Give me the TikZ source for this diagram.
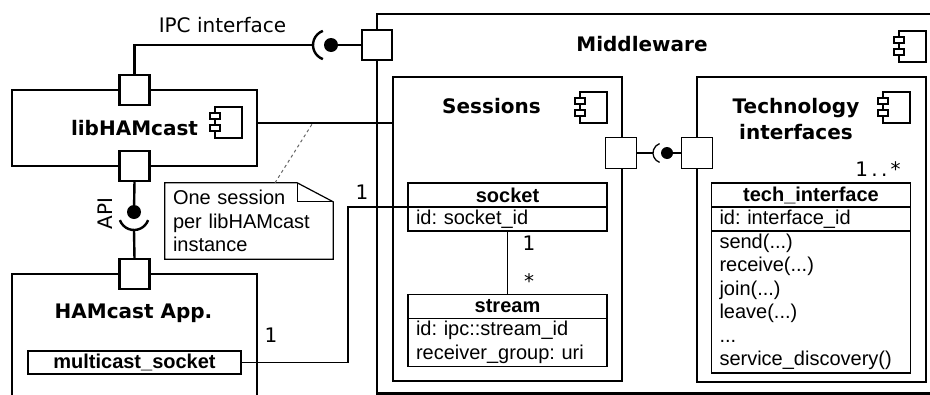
\documentclass[tikz,border=0pt]{standalone}
\usepackage{fontspec}
\setmainfont{DejaVu Sans}
\newfontfamily\umlfont{Liberation Sans}
\usetikzlibrary{positioning,calc}
\frenchspacing

\begin{document}
\begin{tikzpicture}
  [x=1pt,y=-1pt,
   font=\fontsize{20pt}{23.5pt}\selectfont,
   compbig/.style={draw,line width=2.4pt,outer sep=0pt,inner sep=0pt},
   compsmall/.style={draw,line width=1.3pt,outer sep=0pt,inner sep=0pt},
   portbig/.style={draw,fill=white,line width=2.4pt,minimum size=30pt,outer sep=0pt,inner sep=0pt},
   portsmall/.style={draw,fill=white,line width=1.3pt,minimum size=31pt,outer sep=0pt,inner sep=0pt},
   ballbig/.style={circle,fill=black,minimum size=14pt,inner sep=0pt,outer sep=0pt},
   ballsmall/.style={circle,fill=black,minimum size=12pt,inner sep=0pt,outer sep=0pt},
   wirebig/.style={line width=2.4pt},
   wiresmall/.style={line width=1.3pt},
   title/.style={font=\fontsize{20pt}{26pt}\selectfont\bfseries,align=center,inner sep=0pt},
   mult/.style={inner sep=0pt},
   clshead/.style={draw,line width=1.3pt,minimum width=199pt,minimum height=24pt,
     inner sep=0pt,outer sep=0pt,font=\umlfont\fontsize{20pt}{23.5pt}\selectfont\bfseries},
   clsbody/.style={draw,line width=1.3pt,text width=183pt,inner xsep=8pt,inner ysep=0pt,
     outer sep=0pt,align=left,font=\umlfont\fontsize{20pt}{23.5pt}\selectfont},
   assoc/.style={line width=1.2pt},
   notelink/.style={dashed,black!60,line width=1pt},
   compicon/.pic={
     \draw[line width=1.3pt] (0,0) rectangle (27,31);
     \draw[line width=1.3pt,fill=white] (-5,6) rectangle (5,12);
     \draw[line width=1.3pt,fill=white] (-5,18) rectangle (5,24);
   }]
  \useasboundingbox (0,0) rectangle (930,394);
  \clip (0,0) rectangle (930,394);

  % components
  \node[compbig,minimum width=580pt,minimum height=379.5pt,anchor=north west] (mw) at (377,14) {};
  \node[title] (mwname) at (642,44) {Middleware};
  \pic at (899,31) {compicon};

  \node[compsmall,minimum width=229pt,minimum height=304pt,anchor=north west] (sess) at (393,77) {};
  \node[title] (sessname) at (491.5,106) {Sessions};
  \pic at (580,92) {compicon};

  \node[compsmall,minimum width=229pt,minimum height=305pt,anchor=north west] (tech) at (697,77) {};
  \node[title] (techname) at (796,119) {Technology\\interfaces};
  \pic at (883,92) {compicon};

  \node[compbig,minimum width=245pt,minimum height=76pt,font=\fontsize{20pt}{26pt}\selectfont\bfseries] (libbox) at (134.5,128) {libHAMcast};
  \pic at (215,107) {compicon};

  \node[compbig,minimum width=245pt,minimum height=150pt,anchor=north] (app) at (134.5,274) {};
  \node[title] (appname) at (133.5,313) {HAMcast App.};
  \node[clshead,minimum width=213pt,minimum height=23pt] (mcast) at (134.5,362.5) {multicast\_socket};

  % ports
  \node[portbig] (libtop) at (libbox.north) {};
  \node[portbig] (libbot) at (libbox.south) {};
  \node[portbig] (appport) at (app.north) {};
  \node[portbig] (mwport) at (377,45) {};
  \node[portsmall] (sessport) at (621,153) {};
  \node[portsmall] (techport) at (697,153) {};

  % IPC interface
  \coordinate (ipcc) at (328,45);
  \coordinate (ipcsock) at ([xshift=-15pt]ipcc);
  \node[ballbig] (ipcball) at (331,45) {};
  \draw[wirebig] (libtop.north) |- (ipcsock);
  \draw[wirebig] (ipcc) ++(110:15) arc[start angle=110,end angle=250,radius=15];
  \draw[wirebig] (ipcball) -- (mwport.west);
  \node (ipcname) at (222.5,25) {IPC interface};

  % API
  \coordinate (apic) at (134,215);
  \coordinate (apisock) at ([yshift=-15pt]apic);
  \node[ballbig] (apiball) at (134,212) {};
  \draw[wirebig] (libbot.south) -- (apiball);
  \draw[wirebig] (apic) ++(20:15) arc[start angle=20,end angle=160,radius=15];
  \draw[wirebig] (apisock) -- (appport.north);
  \node[rotate=90,inner sep=0pt] (apiname) at (105,213.5) {API};

  % sessions <-> technology interfaces
  \coordinate (techc) at (663,153);
  \coordinate (techsock) at ([xshift=-10pt]techc);
  \node[ballsmall] (techball) at (667,153) {};
  \draw[wiresmall] (sessport.east) -- (techsock);
  \draw[wiresmall] (techc) ++(110:10) arc[start angle=110,end angle=250,radius=10];
  \draw[wiresmall] (techball) -- (techport.west);

  % classes
  \node[clshead] (sockhd) at (507.5,195) {socket};
  \node[clsbody,minimum height=24pt,below=0pt of sockhd] (sockat) {id: socket\_id};
  \node[clshead] (strhd) at (507.5,306.5) {stream};
  \node[clsbody,minimum height=48pt,below=0pt of strhd] (strat) {id: ipc::stream\_id\\receiver\_group: uri};
  \node[clshead] (tihd) at (811,195) {tech\_interface};
  \node[clsbody,minimum height=24pt,below=0pt of tihd] (tiat) {id: interface\_id};
  \node[clsbody,minimum height=142pt,below=0pt of tiat] (tiop) {send(...)\\receive(...)\\join(...)\\leave(...)\\...\\service\_discovery()};

  \draw[assoc] (sockat.south) -- (strhd.north);
  \node[mult] at (529,243) {1};
  \node[mult] at (529,281) {*};
  \node[mult] at (878,169) {1\,.\,.\,*};

  \draw[assoc] (mcast.east) -| ([xshift=-60pt]sockat.north west) -- (sockat.north west);
  \node[mult] at (271,335) {1};
  \node[mult] at (362,192) {1};

  % session per library instance
  \coordinate (libout) at ([yshift=5pt]libbox.east);
  \draw[assoc] (libout) -- (libout -| sess.west);
  \node[minimum width=168pt,minimum height=76pt,text width=152pt,inner xsep=8pt,inner ysep=0pt,
    align=left,font=\umlfont\fontsize{20pt}{23.5pt}\selectfont] (note) at (249,221)
    {One session\\per libHAMcast\\instance};
  \draw[line width=1.2pt] (note.north west) -- ([xshift=-36pt]note.north east)
    -- ([yshift=-19pt]note.north east) -- (note.south east) -- (note.south west) -- cycle;
  \draw[line width=1.2pt] ([xshift=-36pt]note.north east) |- ([yshift=-19pt]note.north east);
  \coordinate (notehook) at ($(libout)!0.41!(libout -| sess.west)$);
  \draw[notelink] ([xshift=26pt]note.north) -- (notehook);

\end{tikzpicture}
\end{document}
